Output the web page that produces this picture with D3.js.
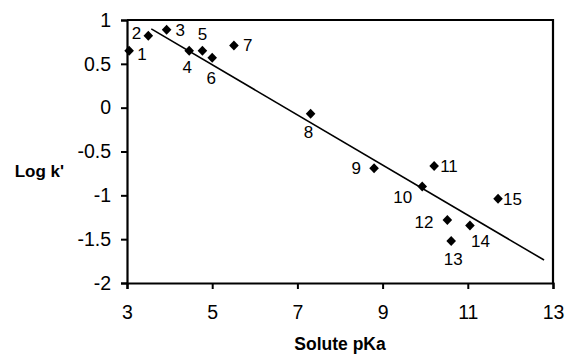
<!DOCTYPE html>
<html>
<head>
<meta charset="utf-8">
<script src="https://cdn.jsdelivr.net/npm/d3@7"></script>
<style>
  body { margin: 0; background: #fff; }
  text { font-family: "Liberation Sans", Arial, sans-serif; fill: #000; }
</style>
</head>
<body>
<div id="chart"></div>
<script>
// solute data
var soluteIds = ['1','2','3','4','5','6','7','8','9','10','11','12','13','14','15'];
var pKa  = [3.05, 3.5, 3.93, 4.46, 4.77, 5.0, 5.51, 7.31, 8.8, 9.93, 10.21, 10.52, 10.61, 11.05, 11.71];
var logK = [0.65, 0.82, 0.89, 0.65, 0.65, 0.57, 0.71, -0.07, -0.69, -0.9, -0.665, -1.28, -1.52, -1.345, -1.04];

// regression line
var fitRange = [3.57, 12.79];
var fitSlope = -0.286;
var fitIntercept = 1.92;

var xTicks = [3, 5, 7, 9, 11, 13];
var yTicks = [1, 0.5, 0, -0.5, -1, -1.5, -2];

// label offsets [dx, dy, anchor]
var labelPos = [
  [8, 9, 'start'], [-7, 3, 'end'], [9, 6, 'start'], [-2, 22, 'middle'], [0, -11, 'middle'],
  [-1, 26, 'middle'], [9, 6, 'start'], [-2, 24, 'middle'], [-13, 6, 'end'], [-10, 16, 'end'],
  [6, 6, 'start'], [-14, 8, 'end'], [2, 24, 'middle'], [1, 21, 'start'], [5, 6, 'start']
];

var width = 568, height = 354;
var margin = {left: 127, top: 20, right: 15, bottom: 71};

var svg = d3.select('#chart').append('svg')
  .attr('width', width)
  .attr('height', height);

var x = d3.scaleLinear().domain([3, 13]).range([margin.left, width - margin.right]);
var y = d3.scaleLinear().domain([-2, 1]).range([height - margin.bottom, margin.top]);

// frame: top + right
svg.append('path')
  .attr('d', 'M' + x(3) + ',' + y(1) + 'H' + x(13) + 'V' + y(-2))
  .attr('fill', 'none')
  .attr('stroke', '#000')
  .attr('stroke-width', 2.2);

var xAxis = svg.append('g')
  .attr('transform', 'translate(0,' + y(-2) + ')')
  .call(d3.axisBottom(x).tickValues(xTicks).tickSize(6).tickPadding(16).tickFormat(d3.format('d')));
var yAxis = svg.append('g')
  .attr('transform', 'translate(' + x(3) + ',0)')
  .call(d3.axisLeft(y).tickValues(yTicks).tickSize(6).tickPadding(10).tickFormat(d3.format('')));

[xAxis, yAxis].forEach(function(a) {
  a.select('.domain').attr('stroke-width', 2.2).attr('stroke', '#000');
  a.selectAll('.tick line').attr('stroke-width', 2).attr('stroke', '#000');
  a.selectAll('.tick text')
    .style('font-size', '19.5px')
    .style('font-family', '"Liberation Sans", Arial, sans-serif')
    .attr('fill', '#000');
});
yAxis.selectAll('.tick text').text(function(d) { return d < 0 ? '-' + Math.abs(d) : d; });

svg.append('text')
  .attr('x', 340)
  .attr('y', 350)
  .attr('text-anchor', 'middle')
  .style('font-size', '17.5px')
  .style('font-weight', 'bold')
  .text('Solute pKa');

svg.append('text')
  .attr('x', 64)
  .attr('y', 177)
  .attr('text-anchor', 'end')
  .style('font-size', '17px')
  .style('font-weight', 'bold')
  .text("Log k'");

// fitted line
svg.append('line')
  .attr('x1', x(fitRange[0])).attr('y1', y(fitSlope * fitRange[0] + fitIntercept))
  .attr('x2', x(fitRange[1])).attr('y2', y(fitSlope * fitRange[1] + fitIntercept))
  .attr('stroke', '#000')
  .attr('stroke-width', 1.6);

var diamond = 'M0,-5L4.8,0L0,5L-4.8,0Z';
var pts = svg.append('g').selectAll('g')
  .data(soluteIds)
  .enter().append('g')
  .attr('transform', function(d, i) { return 'translate(' + x(pKa[i]) + ',' + y(logK[i]) + ')'; });

pts.append('path').attr('d', diamond).attr('fill', '#000');
pts.append('text')
  .attr('x', function(d, i) { return labelPos[i][0]; })
  .attr('y', function(d, i) { return labelPos[i][1]; })
  .attr('text-anchor', function(d, i) { return labelPos[i][2]; })
  .style('font-size', '17px')
  .text(function(d) { return d; });
</script>
</body>
</html>
